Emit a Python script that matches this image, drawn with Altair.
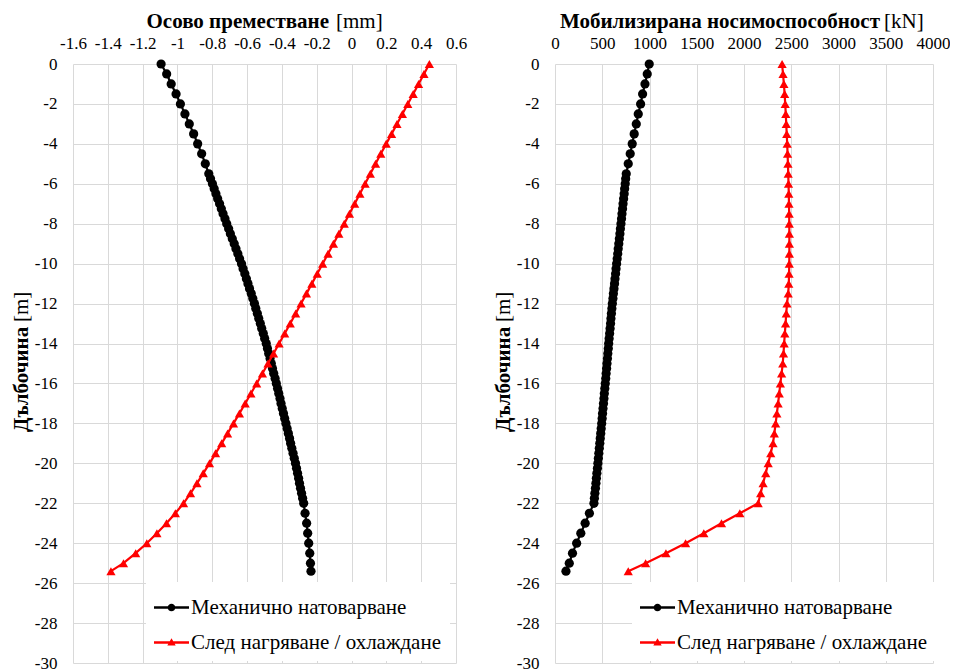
import altair as alt
import pandas as pd

FONT = "Liberation Serif"

# ---- data ----
DEPTH_BLACK = [0, -0.5, -1, -1.5, -2, -2.5, -3, -3.5, -4, -4.5, -5, -5.5,
               -5.75, -6, -6.25, -6.5, -6.75, -7, -7.25, -7.5, -7.75, -8,
               -8.25, -8.5, -8.75, -9, -9.25, -9.5, -9.75, -10,
               -10.25, -10.5, -10.75, -11, -11.25, -11.5, -11.75, -12,
               -12.25, -12.5, -12.75, -13, -13.25, -13.5, -13.75, -14,
               -14.25, -14.5, -14.75, -15, -15.25, -15.5, -15.75, -16,
               -16.25, -16.5, -16.75, -17, -17.25, -17.5, -17.75, -18,
               -18.25, -18.5, -18.75, -19, -19.25, -19.5, -19.75, -20,
               -20.25, -20.5, -20.75, -21, -21.25, -21.5, -21.75, -22,
               -22.5, -23, -23.5, -24, -24.5, -25, -25.4]

DISP_BLACK = [-1.094, -1.062, -1.036, -1.008, -0.983, -0.957, -0.932, -0.907, -0.884, -0.861, -0.840, -0.820,
              -0.810, -0.799, -0.789, -0.779, -0.769, -0.758, -0.748, -0.738, -0.727, -0.717,
              -0.706, -0.696, -0.685, -0.674, -0.664, -0.653, -0.643, -0.632,
              -0.623, -0.613, -0.604, -0.595, -0.586, -0.576, -0.567, -0.558,
              -0.550, -0.541, -0.533, -0.524, -0.516, -0.507, -0.499, -0.490,
              -0.483, -0.476, -0.468, -0.461, -0.454, -0.447, -0.439, -0.432,
              -0.425, -0.418, -0.411, -0.405, -0.398, -0.391, -0.384, -0.377,
              -0.370, -0.363, -0.356, -0.350, -0.343, -0.336, -0.329, -0.322,
              -0.316, -0.310, -0.304, -0.299, -0.293, -0.287, -0.281, -0.275,
              -0.267, -0.258, -0.252, -0.246, -0.240, -0.236, -0.233]

LOAD_BLACK = [997, 976, 952, 927, 906, 881, 860, 838, 817, 796, 775, 754,
              748, 743, 737, 732, 726, 720, 715, 709, 704, 698,
              692, 687, 681, 675, 669, 664, 658, 652,
              646, 641, 635, 630, 624, 618, 613, 607,
              602, 597, 592, 588, 583, 578, 573, 568,
              564, 559, 555, 550, 546, 541, 537, 532,
              527, 522, 518, 513, 508, 503, 499, 494,
              489, 484, 479, 474, 469, 464, 459, 454,
              449, 443, 438, 433, 428, 422, 417, 412,
              364, 319, 273, 229, 185, 151, 116]

DEPTH_RED = [0, -0.5, -1, -1.5, -2, -2.5, -3, -3.5, -4, -4.5, -5, -5.5, -6, -6.5,
             -7, -7.5, -8, -8.5, -9, -9.5, -10, -10.5, -11, -11.5, -12, -12.5,
             -13, -13.5, -14, -14.5, -15, -15.5, -16, -16.5, -17, -17.5, -18,
             -18.5, -19, -19.5, -20, -20.5, -21, -21.5, -22, -22.5, -23, -23.5,
             -24, -24.5, -25, -25.4]

DISP_RED = [0.447, 0.416, 0.385, 0.354, 0.323, 0.292, 0.261, 0.23, 0.199, 0.168, 0.138,
            0.108, 0.078, 0.048, 0.018, -0.012, -0.042, -0.073, -0.104, -0.135, -0.166,
            -0.197, -0.228, -0.259, -0.29, -0.321, -0.352, -0.384, -0.416, -0.448, -0.48,
            -0.512, -0.545, -0.578, -0.611, -0.644, -0.678, -0.712, -0.746, -0.781, -0.816,
            -0.852, -0.888, -0.925, -0.965, -1.012, -1.063, -1.118, -1.176, -1.24, -1.31, -1.382]

LOAD_RED = [2403, 2413, 2422, 2430, 2436, 2442, 2447, 2452, 2457, 2461, 2465,
            2468, 2471, 2474, 2476, 2478, 2479, 2480, 2480, 2480, 2479,
            2477, 2474, 2468, 2455, 2447, 2440, 2432, 2425, 2418, 2410,
            2398, 2385, 2373, 2361, 2348, 2335, 2321, 2307, 2283, 2256,
            2230, 2202, 2176, 2150, 1956, 1762, 1575, 1382, 1174, 959, 775]

SERIES = ["Механично натоварване", "След нагряване / охлаждане"]
COLORS = ["black", "red"]

X1_TICKS = [-1.6, -1.4, -1.2, -1, -0.8, -0.6, -0.4, -0.2, 0, 0.2, 0.4, 0.6]
X2_TICKS = [0, 500, 1000, 1500, 2000, 2500, 3000, 3500, 4000]
Y_TICKS = [0, -2, -4, -6, -8, -10, -12, -14, -16, -18, -20, -22, -24, -26, -28, -30]

TITLE1_BOLD, TITLE1_UNIT = "Осово преместване", "[mm]"
TITLE2_BOLD, TITLE2_UNIT = "Мобилизирана носимоспособност", "[kN]"
YTITLE_BOLD, YTITLE_UNIT = "Дълбочина", "[m]"

black_df = pd.DataFrame({"depth": DEPTH_BLACK, "disp": DISP_BLACK, "load": LOAD_BLACK})
red_df = pd.DataFrame({"depth": DEPTH_RED, "disp": DISP_RED, "load": LOAD_RED})
legend_df = pd.DataFrame({"series": SERIES})

PATH_LINE_CIRCLE = ("M-1,-0.065L1,-0.065L1,0.065L-1,0.065Z "
                    "M0.22,0A0.22,0.22 0 1 1 -0.22,0A0.22,0.22 0 1 1 0.22,0Z")
PATH_LINE_TRI = ("M-1,-0.065L1,-0.065L1,0.065L-1,0.065Z "
                 "M0,-0.25L0.24,0.17L-0.24,0.17Z")

GRID = "#d9d9d9"
W1, W2, H = 383, 378, 599
TICK_FS = 17
PAD = 3
TITLE_Y = -39 + PAD
YTITLE_X = -48 + PAD


def y_enc():
    return alt.Y("depth:Q",
                 scale=alt.Scale(domain=[-30, 0], nice=False, zero=False),
                 axis=alt.Axis(values=Y_TICKS, title=None, labelExpr="datum.value + ''",
                               ticks=False, domain=False, grid=True, gridColor=GRID,
                               gridWidth=1, labelFont=FONT, labelFontSize=TICK_FS,
                               labelColor="black", labelPadding=16))


def x_enc(field, domain, ticks):
    return alt.X(f"{field}:Q",
                 scale=alt.Scale(domain=domain, nice=False, zero=False),
                 axis=alt.Axis(orient="top", values=ticks, title=None,
                               labelExpr="datum.value + ''", labelFlush=False,
                               ticks=False, domain=False, grid=True, gridColor=GRID,
                               gridWidth=1, labelFont=FONT, labelFontSize=TICK_FS,
                               labelColor="black", labelPadding=12, labelOverlap=False))


def panel(field, domain, ticks, width, tb, tb_end, tu, tu_x, leg_x):
    X = x_enc(field, domain, ticks)
    Y = y_enc()
    order = alt.Order("depth:Q", sort="descending")
    bl = alt.Chart(black_df).mark_line(color="black", strokeWidth=2.2).encode(x=X, y=Y, order=order)
    bp = alt.Chart(black_df).mark_point(filled=True, shape="circle", size=85, color="black",
                                        opacity=1).encode(x=X, y=Y)
    rl = alt.Chart(red_df).mark_line(color="red", strokeWidth=2.2).encode(x=X, y=Y, order=order)
    rp = alt.Chart(red_df).mark_point(filled=True, shape="triangle-up", size=85, color="red",
                                      opacity=1).encode(x=X, y=Y)
    leg = alt.Legend(orient="none", legendX=leg_x, legendY=518, title=None,
                     labelFont=FONT, labelFontSize=21, labelColor="black",
                     labelOffset=2, labelLimit=500, symbolSize=1225,
                     symbolStrokeWidth=0, symbolOpacity=1, fillColor="white",
                     padding=8, rowPadding=7)
    lg = alt.Chart(legend_df).mark_point(filled=True, opacity=0, size=1).encode(
        x=alt.value(0), y=alt.value(0),
        color=alt.Color("series:N", scale=alt.Scale(domain=SERIES, range=COLORS), legend=leg),
        shape=alt.Shape("series:N",
                        scale=alt.Scale(domain=SERIES, range=[PATH_LINE_CIRCLE, PATH_LINE_TRI]),
                        legend=leg))
    one = alt.Data(values=[{"k": 1}])
    t1 = alt.Chart(one).mark_text(text=tb, font=FONT, fontSize=21, fontWeight="bold",
                                  align="right", baseline="alphabetic", color="black").encode(
        x=alt.value(tb_end), y=alt.value(TITLE_Y))
    t2 = alt.Chart(one).mark_text(text=tu, font=FONT, fontSize=21, fontWeight="normal",
                                  align="left", baseline="alphabetic", color="black").encode(
        x=alt.value(tu_x), y=alt.value(TITLE_Y))
    y1 = alt.Chart(one).mark_text(text=YTITLE_BOLD, font=FONT, fontSize=21, fontWeight="bold",
                                  align="left", baseline="alphabetic", angle=270,
                                  color="black").encode(x=alt.value(YTITLE_X), y=alt.value(368))
    y2 = alt.Chart(one).mark_text(text=YTITLE_UNIT, font=FONT, fontSize=21, fontWeight="normal",
                                  align="left", baseline="alphabetic", angle=270,
                                  color="black").encode(x=alt.value(YTITLE_X), y=alt.value(258))
    return alt.layer(bl, bp, rl, rp, lg, t1, t2, y1, y2).properties(width=width, height=H)


left = panel("disp", [-1.6, 0.6], X1_TICKS, W1, TITLE1_BOLD, 256, TITLE1_UNIT, 263, 73)
right = panel("load", [0, 4000], X2_TICKS, W2, TITLE2_BOLD, 325, TITLE2_UNIT, 329, 77)

chart = alt.hconcat(left, right, spacing=26).resolve_scale(
    color="independent", shape="independent"
).resolve_legend(
    color="independent", shape="independent"
).properties(
    padding={"left": PAD, "top": PAD, "right": 0, "bottom": 0}, background="white"
).configure_view(stroke=None)

chart.save("out.html", embed_options={"renderer": "svg", "actions": False})
